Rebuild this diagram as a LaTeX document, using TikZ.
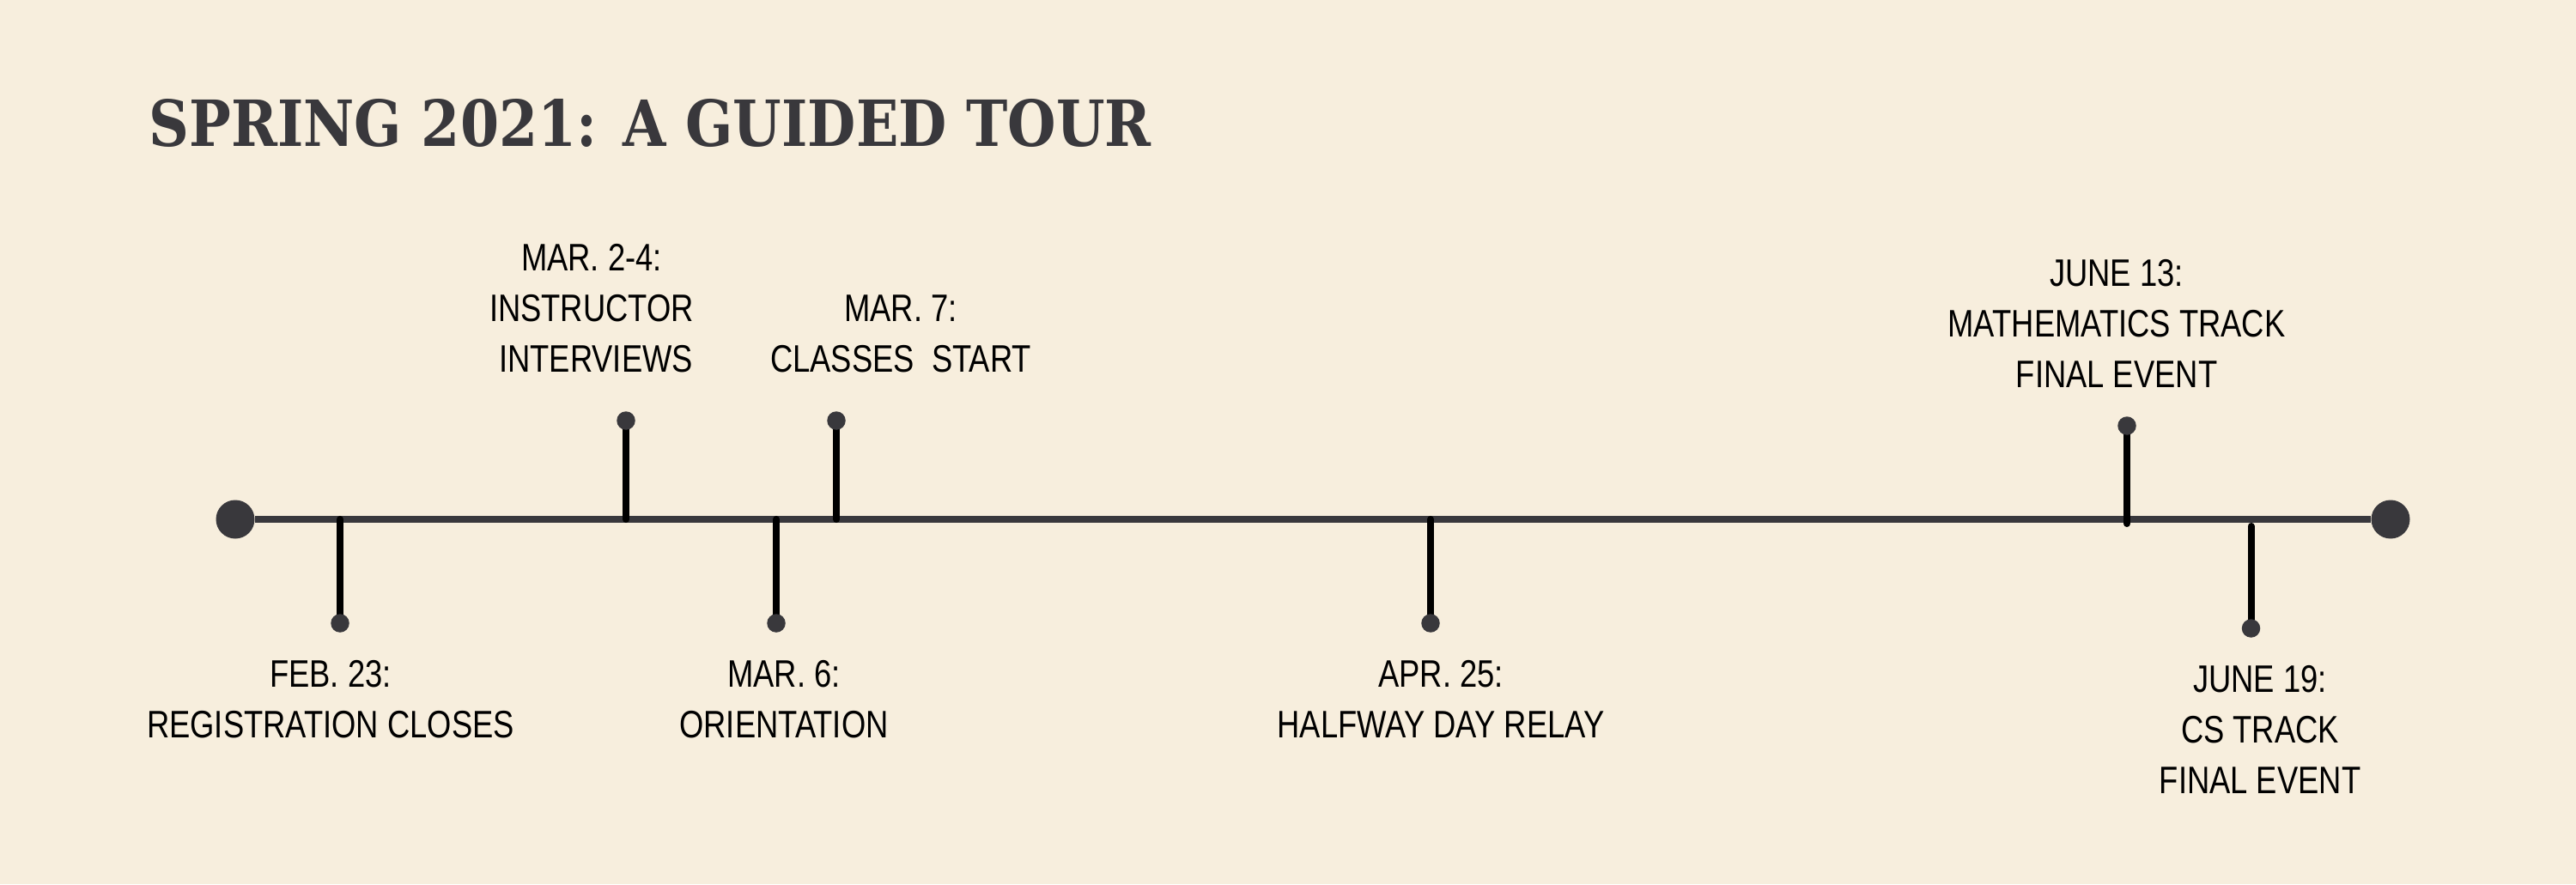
\documentclass[tikz,border=0pt]{standalone}
\usepackage{fontspec}
\newfontfamily\titlefont[FakeStretch=0.875]{DejaVu Serif}
\newfontfamily\labelfont[FakeStretch=0.815]{Liberation Sans}
\definecolor{cream}{HTML}{F7EEDD}
\definecolor{ink}{HTML}{39383C}
\tikzset{
  stemdot/.style={circle,fill=ink,inner sep=0pt,minimum size=0.215cm},
  enddot/.style={circle,fill=ink,inner sep=0pt,minimum size=0.45cm},
  stem/.style={line width=2.3pt,line cap=round,black},
  datelabel/.style={anchor=north,inner sep=0pt,align=center,
    font=\labelfont\fontsize{12.7pt}{16.8pt}\selectfont}
}
\begin{document}
\begin{tikzpicture}
            \fill[cream] (0,0) rectangle (30,10.3);
            \useasboundingbox (0,0) rectangle (30,10.3);
            \node[anchor=base west,inner sep=0pt,text=ink,
                font=\titlefont\bfseries\fontsize{21.1pt}{24pt}\selectfont] (title) at (1.73,8.59) {SPRING 2021: A GUIDED TOUR};

            %main line
            \node[enddot] (start) at (2.74,4.25) {};
            \node[enddot] (end) at (27.84,4.25) {};
            \draw[ink,line width=2.45pt] (start) -- (end);

            %stems below the line
            \coordinate (feb) at (3.96,4.25);
            \coordinate (marsix) at (9.04,4.25);
            \coordinate (apr) at (16.66,4.25);
            \coordinate (junnineteen) at (26.215,4.17);
            \coordinate (febtip) at (3.96,3.04);
            \coordinate (marsixtip) at (9.04,3.04);
            \coordinate (aprtip) at (16.66,3.04);
            \coordinate (junnineteentip) at (26.215,2.98);
            \draw[stem] (feb) -- (febtip);
            \draw[stem] (marsix) -- (marsixtip);
            \draw[stem] (apr) -- (aprtip);
            \draw[stem] (junnineteen) -- (junnineteentip);
            \node[stemdot] (febdot) at (febtip) {};
            \node[stemdot] (marsixdot) at (marsixtip) {};
            \node[stemdot] (aprdot) at (aprtip) {};
            \node[stemdot] (junnineteendot) at (junnineteentip) {};

            %stems above the line
            \coordinate (mar) at (7.29,4.25);
            \coordinate (marseven) at (9.74,4.25);
            \coordinate (junthirteen) at (24.77,4.20);
            \coordinate (martip) at (7.29,5.40);
            \coordinate (marseventip) at (9.74,5.40);
            \coordinate (junthirteentip) at (24.77,5.34);
            \draw[stem] (mar) -- (martip);
            \draw[stem] (marseven) -- (marseventip);
            \draw[stem] (junthirteen) -- (junthirteentip);
            \node[stemdot] (mardot) at (martip) {};
            \node[stemdot] (marsevendot) at (marseventip) {};
            \node[stemdot] (junthirteendot) at (junthirteentip) {};

            \node[datelabel] (febtext) at (3.85,2.61) {FEB. 23:\\REGISTRATION CLOSES};
            \node[datelabel] (marsixtext) at (9.13,2.61) {MAR. 6:\\ORIENTATION};
            \node[datelabel] (aprtext) at (16.78,2.61) {APR. 25:\\HALFWAY DAY RELAY};
            \node[datelabel] (junnineteentext) at (26.32,2.55) {JUNE 19:\\CS TRACK\\FINAL EVENT};
            \node[datelabel] (martext) at (6.89,7.46) {MAR. 2-4:\\INSTRUCTOR\\\ INTERVIEWS};
            \node[datelabel] (marseventext) at (10.49,6.87) {MAR. 7:\\CLASSES\ \ START};
            \node[datelabel] (junthirteentext) at (24.65,7.28) {JUNE 13:\\MATHEMATICS TRACK\\FINAL EVENT};
        \end{tikzpicture}
\end{document}
